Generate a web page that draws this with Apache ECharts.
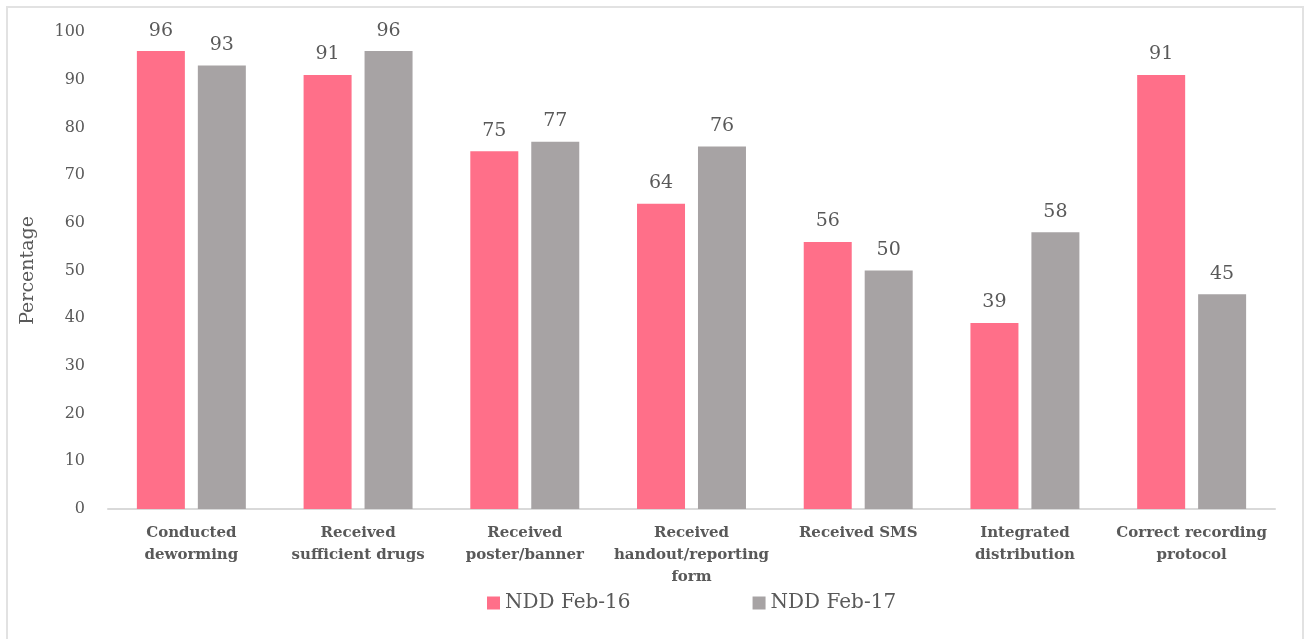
<!DOCTYPE html>
<html>
<head>
<meta charset="utf-8">
<title>NDD comparison</title>
<script src="https://cdn.jsdelivr.net/npm/echarts@6/dist/echarts.min.js"></script>
<style>
  html, body { margin: 0; padding: 0; background: #fff; }
  #container { width: 1304px; height: 639px; }
</style>
</head>
<body>
<div id="container"></div>
<script>
  // categories and values
  var categories = [
    'Conducted\ndeworming',
    'Received\nsufficient drugs',
    'Received\nposter/banner',
    'Received\nhandout/reporting\nform',
    'Received SMS',
    'Integrated\ndistribution',
    'Correct recording\nprotocol'
  ];
  var feb16 = [96, 91, 75, 64, 56, 39, 91];
  var feb17 = [93, 96, 77, 76, 50, 58, 45];

  var serif = '"DejaVu Serif", "Liberation Serif", serif';
  var textColor = '#595959';

  var myChart = echarts.init(document.getElementById('container'));

  var option = {
    backgroundColor: '#fff',
    animation: false,
    textStyle: { fontFamily: serif },
    graphic: [{
      type: 'rect',
      shape: { x: 7, y: 7, width: 1296, height: 645 },
      style: { fill: 'none', stroke: '#e2e2e2', lineWidth: 2 },
      silent: true
    }],
    grid: { left: 108, right: 29, top: 32, bottom: 130, containLabel: false },
    legend: {
      data: ['NDD Feb-16', 'NDD Feb-17'],
      left: 482,
      top: 588,
      itemWidth: 13,
      itemHeight: 13,
      itemGap: 122,
      icon: 'rect',
      textStyle: { fontFamily: serif, fontSize: 20, color: textColor }
    },
    xAxis: {
      type: 'category',
      data: categories,
      axisLine: { lineStyle: { color: '#d9d9d9', width: 2 } },
      axisTick: { show: false },
      axisLabel: {
        interval: 0,
        margin: 13,
        fontFamily: serif,
        fontWeight: 'bold',
        fontSize: 15,
        lineHeight: 22,
        color: textColor
      }
    },
    yAxis: {
      type: 'value',
      min: 0,
      max: 100,
      interval: 10,
      name: 'Percentage',
      nameLocation: 'middle',
      nameGap: 70,
      nameTextStyle: { fontFamily: serif, fontSize: 19, color: textColor },
      axisLine: { show: false },
      axisTick: { show: false },
      splitLine: { show: false },
      axisLabel: { fontFamily: serif, fontSize: 16, color: textColor, margin: 23 }
    },
    series: [
      {
        name: 'NDD Feb-16',
        type: 'bar',
        data: feb16,
        barWidth: 48,
        barGap: '27%',
        itemStyle: { color: '#ff6f89' },
        label: { show: true, position: 'top', distance: 11, fontFamily: serif, fontSize: 19, color: textColor }
      },
      {
        name: 'NDD Feb-17',
        type: 'bar',
        data: feb17,
        barWidth: 48,
        itemStyle: { color: '#a7a3a4' },
        label: { show: true, position: 'top', distance: 11, fontFamily: serif, fontSize: 19, color: textColor }
      }
    ]
  };

  myChart.setOption(option, true);
</script>
</body>
</html>
